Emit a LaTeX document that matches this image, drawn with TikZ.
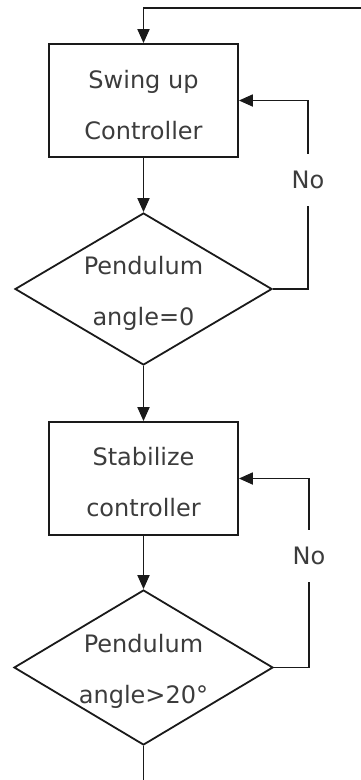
\documentclass[tikz,border=0pt]{standalone}
\usepackage{fontspec}
\setmainfont{DejaVu Sans}
\usetikzlibrary{shapes.geometric,arrows.meta}
\definecolor{txt}{HTML}{3C3C3C}
\definecolor{ln}{HTML}{1A1A1A}
\tikzset{
  flowline/.style={draw=ln,line width=1.8pt},
  arr/.style={flowline,-{Triangle[length=14pt,width=12pt]}},
  procbox/.style={draw=ln,line width=1.8pt,rectangle,minimum width=189pt,minimum height=113pt,inner sep=0pt},
  decbox/.style={draw=ln,line width=1.8pt,diamond,inner sep=0pt},
  lbl/.style={text=txt,font=\fontsize{24}{51}\selectfont,align=center,inner sep=0pt},
  nolbl/.style={text=txt,font=\fontsize{24}{28}\selectfont,inner sep=0pt,minimum height=52pt}
}
\begin{document}
\begin{tikzpicture}[x=1pt,y=-1pt]
\useasboundingbox[fill=white] (0,0) rectangle (361,780);
% nodes
\node[procbox] (b1) at (143.5,100.5) {};
\node[lbl] (t1) at (143.5,105) {Swing up\\Controller};
\node[decbox,minimum width=257pt,minimum height=152pt] (d1) at (143.5,289) {};
\node[lbl] (t2) at (143.5,293.5) {Pendulum\\angle=0};
\node[procbox] (b2) at (143.5,478.5) {};
\node[lbl] (t3) at (143.5,482.5) {Stabilize\\controller};
\node[decbox,minimum width=259pt,minimum height=155pt] (d2) at (143.5,667.5) {};
\node[lbl] (t4) at (143.5,671) {Pendulum\\angle>20°};
\node[nolbl] (no1) at (308,180) {No};
\node[nolbl] (no2) at (309,556) {No};
\coordinate (tr) at (361,8);
\coordinate (tl) at (143.5,8);
\coordinate (bot) at (143.5,780);
% connectors
\draw[arr] (tr) -- (tl) -- (b1.north);
\draw[arr] (b1.south) -- (d1.north);
\draw[arr] (d1.south) -- (b2.north);
\draw[arr] (b2.south) -- (d2.north);
\draw[flowline] (d2.south) -- (bot);
\draw[flowline] (d1.east) -| (no1.south);
\draw[arr] (no1.north) |- (b1.east);
\draw[flowline] (d2.east) -| (no2.south);
\draw[arr] (no2.north) |- (b2.east);
\end{tikzpicture}
\end{document}
